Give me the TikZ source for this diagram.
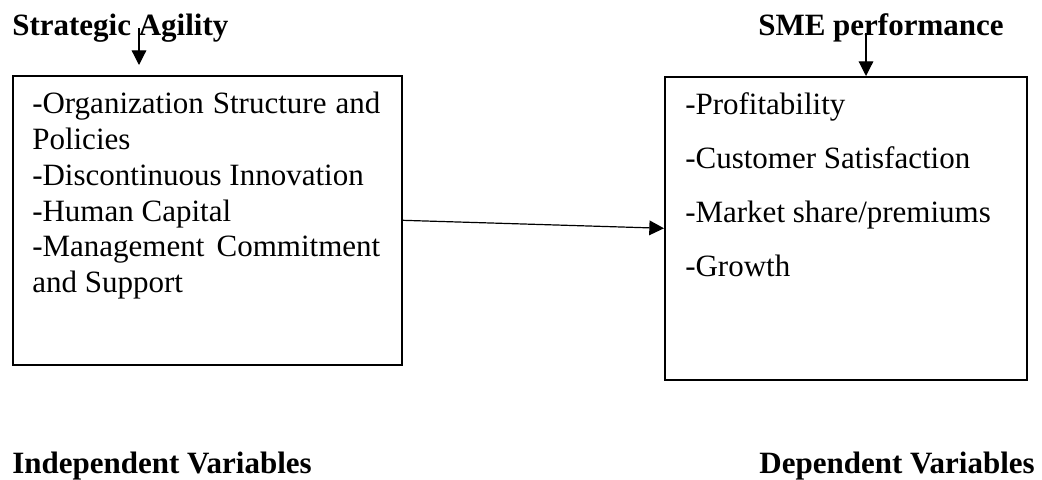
\documentclass[tikz,border=0pt]{standalone}
\usepackage{fontspec}
\setmainfont{Liberation Serif}
\usetikzlibrary{arrows.meta}
\hyphenpenalty=10000
\begin{document}
\begin{tikzpicture}[x=0.75pt,y=-0.75pt,
  box/.style={draw, line width=1.2pt, inner sep=0pt, anchor=north west},
  heading/.style={font=\fontsize{23.25pt}{26.85pt}\selectfont\bfseries, inner sep=0pt},
  itemlist/.style={inner sep=0pt, anchor=north west},
  link/.style={line width=0.9pt, -{Triangle[length=11pt,width=11pt]}}]

\useasboundingbox (0,0) rectangle (1042,479);

% framework boxes
\node[box, minimum width=291.75pt, minimum height=216.75pt] (lbox) at (12,75) {};
\node[box, minimum width=271.5pt, minimum height=227.25pt] (rbox) at (664,76) {};

% contents of the boxes
\node[itemlist, text width=261pt, align=justify,
      font=\fontsize{23.25pt}{26.85pt}\selectfont] (ltext) at (32,92)
  {-Organization Structure and Policies\\
   -Discontinuous Innovation\\
   -Human Capital\\
   -Management Commitment and Support};
\node[itemlist, align=left,
      font=\fontsize{23.25pt}{40.5pt}\selectfont] (rtext) at (685,92)
  {-Profitability\\
   -Customer Satisfaction\\
   -Market share/premiums\\
   -Growth};

% headings
\node[heading, anchor=base west] (sa) at (12,35) {Strategic Agility};
\node[heading, anchor=base west] (sme) at (758,35) {SME performance};
\node[heading, anchor=base west] (iv) at (12,473) {Independent Variables};
\node[heading, anchor=base east] (dv) at (1035,473) {Dependent Variables};

% arrows
\coordinate (satop) at (139,28);
\coordinate (satip) at (139,65);
\coordinate (smetop) at (866,33);
\draw[link] (satop) -- (satip);
\draw[link] (smetop) -- (smetop |- rbox.north);
\draw[link] (lbox.east) -- (rbox.west);
\end{tikzpicture}
\end{document}
